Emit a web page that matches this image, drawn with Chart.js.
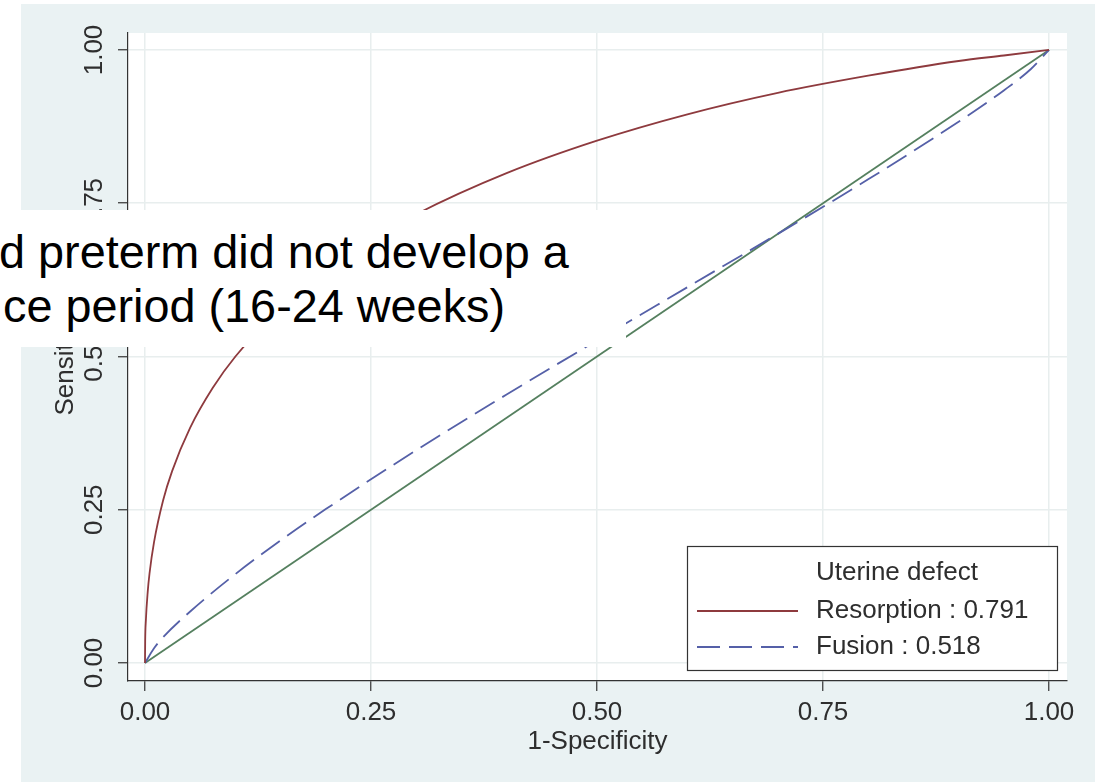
<!DOCTYPE html>
<html>
<head>
<meta charset="utf-8">
<script src="https://cdn.jsdelivr.net/npm/chart.js@4"></script>
<style>
  body { margin: 0; background: #fff; }
  #frame { position: absolute; left: 21px; top: 4px; width: 1074px; height: 778px; background: #eaf2f3; }
  #note { position: absolute; left: 0; top: 210px; width: 626px; height: 137px; background: #fff; overflow: hidden;
          font-family: "Liberation Sans", Arial, sans-serif; font-size: 46.8px; line-height: 54px; color: #000; white-space: pre; }
  #note div { position: absolute; }
</style>
</head>
<body>
<div id="frame"><canvas id="roc" width="1074" height="778"></canvas></div>
<div id="note">
  <div style="left:-1px; top:15px;">d preterm did not develop a</div>
  <div style="left:3px; top:69px;">ce period (16-24 weeks)</div>
</div>
<script>
// ticks
const xTicks = [0, 0.25, 0.5, 0.75, 1];
const yTicks = [0, 0.25, 0.5, 0.75, 1];
const tickText = ['0.00', '0.25', '0.50', '0.75', '1.00'];

// ROC curves (1-specificity, sensitivity)
const resorptionFpr  = [0, 0.0002, 0.001, 0.003, 0.005, 0.01, 0.02, 0.03, 0.05, 0.075, 0.1, 0.15, 0.2, 0.25, 0.3, 0.4, 0.5, 0.6, 0.7, 0.8, 0.9, 0.95, 1];
const resorptionSens = [0, 0.035, 0.07, 0.116, 0.146, 0.197, 0.265, 0.313, 0.384, 0.449, 0.500, 0.579, 0.640, 0.690, 0.732, 0.799, 0.852, 0.895, 0.930, 0.958, 0.982, 0.991, 1];
const fusionFpr  = [0, 0.01, 0.02, 0.05, 0.1, 0.15, 0.2, 0.3, 0.4, 0.5, 0.6, 0.7, 0.8, 0.9, 0.95, 0.98, 1];
const fusionSens = [0, 0.024, 0.042, 0.084, 0.145, 0.200, 0.251, 0.347, 0.438, 0.526, 0.613, 0.700, 0.789, 0.883, 0.934, 0.969, 1];
const refFpr  = [0, 1];
const refSens = [0, 1];

const seriesLabels = ['Resorption : 0.791', 'Fusion : 0.518', 'Reference'];
const legendTitle = 'Uterine defect';

const FONT = '"Liberation Sans", Arial, sans-serif';
const TEXT = '#2e2e2e';
Chart.defaults.font.family = FONT;

const pts = (xs, ys) => xs.map((x, i) => ({x: x, y: ys[i]}));

const decor = {
    id: 'decor',
    beforeDraw(chart) {
        const a = chart.chartArea, ctx = chart.ctx;
        ctx.save();
        ctx.fillStyle = '#fff';
        ctx.fillRect(a.left, a.top, a.right - a.left, a.bottom - a.top);
        ctx.restore();
    },
    afterDraw(chart) {
        const ctx = chart.ctx, ys = chart.scales.y;
        ctx.save();
        // rotated y tick labels
        ctx.fillStyle = TEXT;
        ctx.font = '26px ' + FONT;
        ctx.textAlign = 'center';
        ctx.textBaseline = 'middle';
        yTicks.forEach((v, i) => {
            ctx.save();
            ctx.translate(74, ys.getPixelForValue(v));
            ctx.rotate(-Math.PI / 2);
            ctx.fillText(tickText[i], 0, 0);
            ctx.restore();
        });

        // legend box
        const L = 666, T = 542, R = 1036, B = 666;
        ctx.fillStyle = '#fff';
        ctx.fillRect(L, T, R - L, B - T);
        ctx.strokeStyle = '#333';
        ctx.lineWidth = 1.2;
        ctx.strokeRect(L + 0.5, T + 0.5, R - L, B - T);
        ctx.fillStyle = TEXT;
        ctx.textAlign = 'left';
        ctx.fillText(legendTitle, 795, 569);
        [0, 1].forEach((k, i) => {
            const ds = chart.data.datasets[k];
            const y = 607 + i * 36;
            ctx.beginPath();
            ctx.strokeStyle = ds.borderColor;
            ctx.lineWidth = ds.borderWidth;
            ctx.setLineDash(ds.borderDash || []);
            ctx.moveTo(676, y);
            ctx.lineTo(777, y);
            ctx.stroke();
            ctx.setLineDash([]);
            ctx.fillStyle = TEXT;
            ctx.fillText(ds.label, 795, y);
        });
        ctx.restore();
    }
};

new Chart(document.getElementById('roc'), {
    type: 'line',
    data: {
        datasets: [
            {
                label: seriesLabels[0],
                data: pts(resorptionFpr, resorptionSens),
                borderColor: '#8e3a3e',
                borderWidth: 1.8,
                pointRadius: 0,
                cubicInterpolationMode: 'monotone'
            },
            {
                label: seriesLabels[1],
                data: pts(fusionFpr, fusionSens),
                borderColor: '#5560a8',
                borderWidth: 1.8,
                borderDash: [23, 9],
                pointRadius: 0,
                cubicInterpolationMode: 'monotone'
            },
            {
                label: seriesLabels[2],
                data: pts(refFpr, refSens),
                borderColor: '#55805f',
                borderWidth: 1.8,
                pointRadius: 0
            }
        ]
    },
    options: {
        responsive: false,
        animation: false,
        layout: {padding: {left: 0, right: 28, top: 29, bottom: 0}},
        plugins: {legend: {display: false}, tooltip: {enabled: false}},
        scales: {
            x: {
                type: 'linear',
                min: -0.0188,
                max: 1.0199,
                afterBuildTicks: s => { s.ticks = xTicks.map(v => ({value: v})); },
                afterFit: s => { s.height = 101; },
                grid: {color: '#e8eeee', lineWidth: 1.5, tickLength: 10, tickColor: '#333', tickWidth: 1.2},
                border: {color: '#333', width: 1.2},
                ticks: {
                    padding: 6,
                    color: TEXT,
                    font: {size: 26},
                    maxRotation: 0,
                    callback: v => tickText[xTicks.indexOf(v)]
                },
                title: {display: true, text: '1-Specificity', color: TEXT, font: {size: 26}, padding: {top: 0, bottom: 25}}
            },
            y: {
                type: 'linear',
                min: -0.0294,
                max: 1.0277,
                afterBuildTicks: s => { s.ticks = yTicks.map(v => ({value: v})); },
                afterFit: s => { s.width = 107; },
                grid: {color: '#e8eeee', lineWidth: 1.5, tickLength: 10, tickColor: '#333', tickWidth: 1.2},
                border: {color: '#333', width: 1.2},
                ticks: {display: false},
                title: {display: true, text: 'Sensitivity', color: TEXT, font: {size: 26}, padding: {top: 29, bottom: 0}}
            }
        }
    },
    plugins: [decor]
});
</script>
</body>
</html>
